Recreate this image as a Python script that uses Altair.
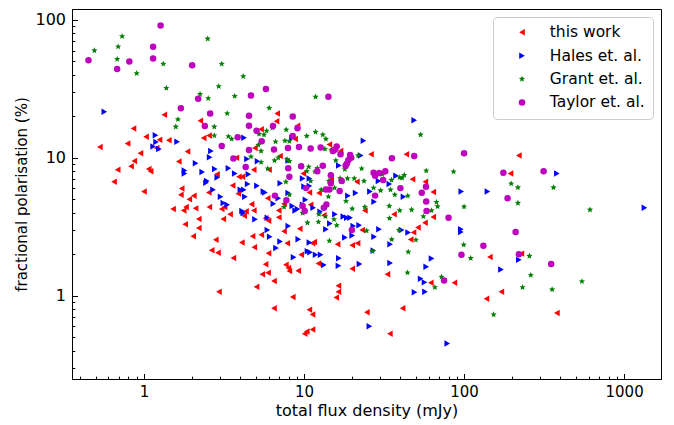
import altair as alt
import pandas as pd

# ---- data ----
work_x = [1.34,2.25,0.86,1.03,1.25,1.43,2.36,2.55,0.79,0.53,1.2,0.95,1.87,4.93,5.39,0.87,0.83,0.685,1.07,1.10,
          1.65,3.78,2.86,3.92,4.12,4.85,0.65,3.58,1.72,1.0,1.70,2.05,2.54,3.88,6.04,
          1.92,1.52,1.83,1.77,2.10,2.56,3.06,3.19,3.45,3.13,2.2,1.81,2.2,2.03,2.81,2.65,2.9,3.62,4.09,4.89,
          4.77,5.41,4.70,4.86,4.23,4.34,5.75,6.0,5.75,5.49,5.96,5.05,2.94,
          6.8,6.73,9.1,8.8,14.4,16.9,26.2,43.6,7.08,30.9,47.6,57.3,64.2,21.4,14.8,10.8,12.4,
          6.95,6.95,6.0,9.4,7.5,7.86,6.49,7.7,7.98,8.1,9.2,9.6,11.3,11.6,12.3,16.2,20.0,21.6,20.0,23.1,
          16.4,16.4,15.9,33.2,8.5,6.49,10.8,11.3,11.3,10.4,10.1,24.7,41.3,34.4,36.5,46.4,48.3,51.5,57,64.2,
          24,13.3,62,87,7.5,
          220,195,145,228,171,138,380,
          5.93,9.9,11.0]
work_y = [20.5,18.6,16.3,14.2,13.5,13.4,13.9,14.5,12.7,12.0,11.8,10.8,11.1,11.8,16.1,9.5,8.7,8.2,8.3,8.0,
          9.4,10.0,7.6,7.3,7.3,8.2,6.7,6.3,6.0,5.7,5.4,5.3,5.6,5.5,8.2,
          5.0,4.25,4.4,4.15,4.3,4.4,4.25,4.4,3.9,3.6,3.6,3.3,3.1,2.7,2.55,2.14,2.05,1.88,2.43,2.25,
          2.7,2.77,4.6,4.15,3.8,4.1,3.65,2.03,1.69,1.43,1.47,1.16,1.07,
          21,18.4,17.1,13.7,12.5,11.2,10.6,10.6,10.3,7.9,7.0,6.7,5.65,6.7,7.0,5.6,5.55,
          4.15,3.7,3.5,3.06,2.94,2.4,1.28,1.68,1.59,1.51,1.52,1.98,2.4,2.45,1.71,2.36,2.32,2.4,1.57,3.0,
          1.18,1.07,0.97,1.43,0.98,0.81,0.79,0.73,0.57,0.55,0.53,0.76,0.81,0.53,3.9,2.56,2.88,3.12,3.38,3.73,
          4.15,3.83,1.24,1.24,4.64,
          10.4,7.7,1.91,2.02,1.07,0.95,0.75,
          5.1,7.7,4.56]

hales_x = [0.565,1.18,1.19,1.14,1.24,1.61,4.22,2.62,2.57,2.10,1.79,1.79,2.31,2.77,3.37,3.69,4.4,5.12,4.49,2.47,
           2.44,2.87,4.44,5.08,2.7,4.0,4.2,5.57,3.01,4.27,
           3.13,3.31,4.1,4.17,4.94,5.9,5.9,6.1,
           48.8,23.5,8.4,7.96,15.3,16.5,22.6,37.6,9.8,10.8,10,10.8,7.1,7.96,21,25.8,29.2,34.1,96,18.8,41.8,5.7,
           6.43,6.9,10.2,9.8,8.8,9.1,8.44,11.4,12.6,15.6,17.6,18.5,19.4,14.5,13.7,20.3,22.1,20,18,
           7.08,6.68,9.2,10.8,10.5,10.9,11.8,12.7,8.6,16.5,13.3,16.4,22.2,27.1,27.4,29.4,40.7,44.7,34.5,34.5,
           62.6,58,53.5,56.6,49,57,25.6,78.5,27.4,7.97,
           380,140,1340,95.5,95.5,220,170]
hales_y = [21.6,14.6,13.0,12.1,11.6,13.1,14.0,11.2,10.1,9.15,8.1,7.7,7.9,8.3,8.4,7.7,9.8,9.45,7.6,6.8,
           6.6,7.2,6.45,6.27,5.87,5.87,5.87,5.71,5.23,5.23,
           4.7,4.56,4.11,3.98,3.58,3.68,3.0,2.68,
           18.7,13.3,13.9,9.56,11.2,8.8,10.4,7.4,7.08,7.08,6.2,6.24,6.55,5.56,5.56,5.7,6.8,6.45,5.7,5.3,5.23,5.6,
           4.64,5.1,4.96,4.56,4.15,4.25,4.47,4.35,4.07,3.9,3.76,3.68,3.68,3.34,3.04,3.2,3.24,2.73,2.64,
           2.47,2.22,2.57,2.43,2.1,2.07,1.98,1.98,1.9,1.87,1.67,1.65,1.7,2.13,2.68,3.04,3.0,2.87,2.36,1.73,
           1.86,1.62,1.33,1.25,1.06,1.07,0.6,0.45,4.8,3.2,
           7.7,5.7,4.35,3.04,2.9,1.82,1.55]

grant_x = [0.73,0.49,0.69,0.68,2.5,1.32,0.90,3.06,4.17,2.93,1.38,2.24,2.52,3.69,3.31,1.63,1.58,2.75,2.75,3.37,
           3.53,5.23,5.62,5.84,5.18,5.39,4.66,5.93,5.39,6.06,
           11.8,6.34,7.74,10.4,11.8,13.1,13.7,6.64,7.6,8.1,13.5,14.8,17,53.5,6.9,6.54,7.83,8.1,15.8,21.8,
           22.9,18,10.7,12.1,10.4,11.7,
           7.7,11,14.3,16.8,18.7,20.6,23.7,30.8,35.2,42.3,39.6,41,58,86,12.8,13.4,15.5,34.7,27.2,30.1,
           14.2,36.9,44.5,8.1,
           7.5,10.5,9.8,12.4,13.6,15.4,16,18.3,20,24,12.3,24.6,14.4,34.1,34.2,39.6,47,55.7,62.6,67.2,
           68.3,100,39.2,35.3,50,44.8,44.3,72.3,65.7,26.8,99.5,
           197,217,362,217,612,110,256,261,545,232,355,153]
grant_y = [76,60,64,52,73,48,41,48,39,33,32,29,27,28,21,19,16.8,16.8,14.5,14.3,
           13.7,14.9,14.7,15.7,12.4,11.2,10.2,8.35,9.3,23,
           27.7,16.5,16,14.4,15.4,14.7,13.7,13.1,13.3,13.2,11.6,11.4,10.8,14.7,10,9.56,9.77,9.45,9.56,10.4,
           8.35,8.25,8.6,8.4,8.0,7.94,
           6.7,6.8,6.8,7.1,7.08,7.08,6.8,7.6,6.9,7.5,7.2,7.15,8.07,7.94,5.87,5.87,6.06,5.87,6.06,5.8,
           5.23,5.4,5.3,5.4,
           4.4,3.38,3.98,3.9,3.76,3.58,3.24,4.85,4.27,4.4,3.43,2.96,2.5,4.47,3.65,4.15,4.2,3.76,4.15,4.77,
           4.44,4.42,3.0,2.56,2.54,2.08,1.47,1.37,1.15,2.1,2.34,
           6.5,6.1,6.1,4.7,4.2,1.87,1.94,1.41,1.27,1.15,1.11,0.73]

taylor_x = [1.27,1.14,1.14,0.81,0.68,0.45,2.0,5.78,4.66,2.18,1.70,2.59,4.53,4.53,2.4,5.05,5.44,3.85,3.06,4.53,
            3.62,4.32,
            14.2,8.5,6.4,9.1,8.5,6.49,7.94,9.3,11,12.7,16,15.6,15.2,16.9,19.4,19.7,18.9,18.5,18.2,35.4,
            48.8,100,7.97,9.6,13.1,12.1,8.1,14.7,14.7,17.2,27.2,29.5,32.2,27.8,31.2,40,57.8,54.4,10.3,13.7,
            14.4,16.7,6.58,27.8,
            7.76,9.8,10.1,13.8,13.3,19.9,58.3,80,96.3,75,58,
            176,314,187,210,132,220,350]
taylor_y = [91,64,52.6,50,44,51,47,31.6,28.3,26.8,22.9,21,20.2,17.1,17,15.7,13.2,14.1,12.2,11.4,
            9.9,8.57,
            27.7,19.9,17,16.4,14.4,11.5,11.8,12,11.7,11.9,12.1,11.5,11.2,10.6,10.5,10,9.6,9.06,8.77,9.94,
            10.3,10.8,8.4,8.7,8.77,8.0,7.3,7.47,6.55,6.8,7.8,7.76,8.0,7.4,6.9,6.03,6.17,5.58,6.03,5.9,
            5.9,5.75,5.32,5.32,
            4.93,4.48,4.11,4.58,4.35,3.0,4.11,3.68,1.98,1.29,4.82,
            7.8,8.0,5.1,2.9,2.3,2.0,1.7]

series_names = ["this work", "Hales et. al.", "Grant et. al.", "Taylor et. al."]
series_colors = ["#ff0000", "#0000ff", "#008000", "#bf00bf"]
star = ("M0,-1L0.265,-0.364L0.951,-0.309L0.428,0.139L0.588,0.809L0,0.45"
        "L-0.588,0.809L-0.428,0.139L-0.951,-0.309L-0.265,-0.364Z")
series_shapes = ["triangle-left", "triangle-right", star, "circle"]
series_sizes = [42, 42, 52, 36]

x_major = [1, 10, 100, 1000]
x_minor = [0.4, 0.5, 0.6, 0.7, 0.8, 0.9, 2, 3, 4, 5, 6, 7, 8, 9,
           20, 30, 40, 50, 60, 70, 80, 90, 200, 300, 400, 500, 600, 700, 800, 900]
y_major = [1, 10, 100]
y_minor = [0.3, 0.4, 0.5, 0.6, 0.7, 0.8, 0.9, 2, 3, 4, 5, 6, 7, 8, 9,
           20, 30, 40, 50, 60, 70, 80, 90]

rows = []
for name, xs, ys in zip(series_names,
                        [work_x, hales_x, grant_x, taylor_x],
                        [work_y, hales_y, grant_y, taylor_y]):
    for xv, yv in zip(xs, ys):
        rows.append({"flux": xv, "pol": yv, "survey": name})
df = pd.DataFrame(rows)
df["order"] = range(len(df))

FONT = "DejaVu Sans"
xscale = alt.Scale(type="log", domain=[0.355, 1700], nice=False)
yscale = alt.Scale(type="log", domain=[0.249, 120], nice=False)

legend = alt.Legend(title=None, orient="top-right", offset=8, padding=7.5,
                    fillColor="white", strokeColor="#cccccc",
                    cornerRadius=4, labelFont=FONT, labelFontSize=15.5,
                    labelColor="black", symbolSize=25, rowPadding=6.4,
                    symbolOffset=13.75, labelOffset=20, symbolStrokeWidth=0)

points = alt.Chart(df).mark_point(filled=True, opacity=1, strokeWidth=0).encode(
    x=alt.X("flux:Q", scale=xscale,
            axis=alt.Axis(values=x_major, format="d", orient="bottom",
                          title="total flux density (mJy)",
                          tickSize={"expr": "-5.5"}, labelPadding=10.5,
                          labelFontSize=15, titleFontSize=16,
                          titleY=36, titleBaseline="alphabetic")),
    y=alt.Y("pol:Q", scale=yscale,
            axis=alt.Axis(values=y_major, format="d", orient="left",
                          title="fractional polarisation (%)",
                          tickSize={"expr": "-5.5"}, labelPadding=12,
                          labelFontSize=16, titleFontSize=15,
                          titleX=-45.5, titleY=185, titleAngle=270,
                          titleBaseline="alphabetic", titleAlign="center")),
    color=alt.Color("survey:N", scale=alt.Scale(domain=series_names, range=series_colors),
                    legend=legend),
    shape=alt.Shape("survey:N", scale=alt.Scale(domain=series_names, range=series_shapes),
                    legend=legend),
    size=alt.Size("survey:N", scale=alt.Scale(domain=series_names, range=series_sizes),
                  legend=None),
    order=alt.Order("order:Q"),
)

minor = alt.Chart(df).mark_point(opacity=0).encode(
    x=alt.X("flux:Q", scale=xscale,
            axis=alt.Axis(values=x_minor, labels=False, domain=False, title=None,
                          orient="bottom", tickSize={"expr": "-2.8"})),
    y=alt.Y("pol:Q", scale=yscale,
            axis=alt.Axis(values=y_minor, labels=False, domain=False, title=None,
                          orient="left", tickSize={"expr": "-2.8"})),
)

chart = alt.layer(points, minor).resolve_axis(
    x="independent", y="independent"
).properties(
    width=589, height=370,
    autosize=alt.AutoSizeParams(type="none"),
    padding={"left": 64, "top": 1, "right": 5, "bottom": 44},
).configure_view(
    stroke="black", strokeWidth=1
).configure_axis(
    grid=False, labelFont=FONT, labelColor="black",
    titleFont=FONT, titleFontWeight="normal", titleColor="black",
    domainColor="black", domainWidth=1, tickColor="black", tickWidth=1,
)

chart.save("out.html", embed_options={"renderer": "svg", "actions": False})
